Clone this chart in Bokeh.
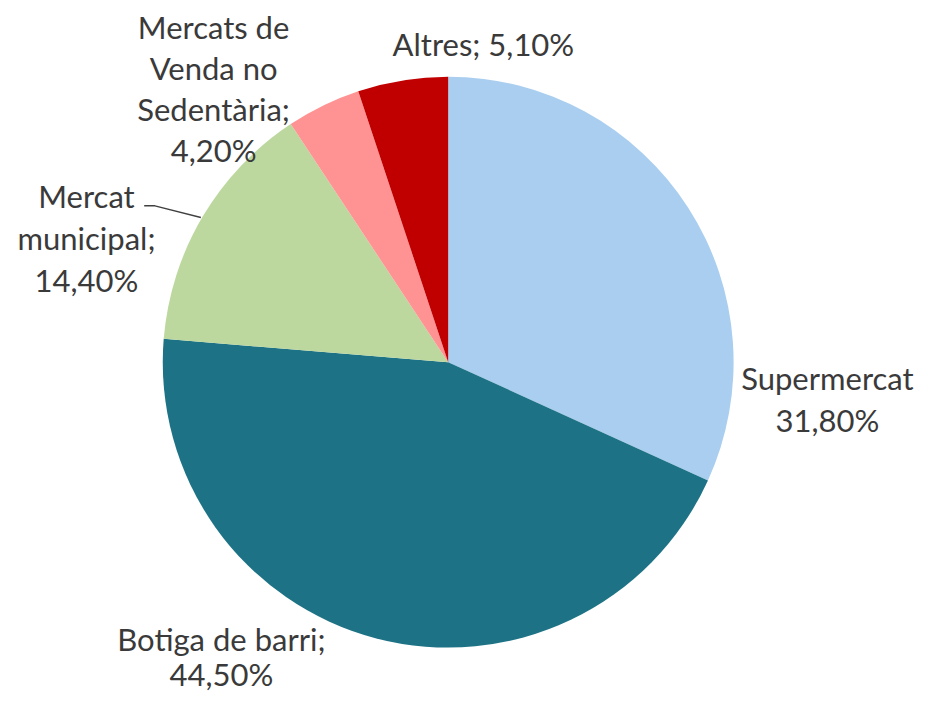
import math
from bokeh.plotting import figure
from bokeh.models import Range1d, ColumnDataSource
from bokeh.core.properties import value
from bokeh.embed import file_html
from bokeh.resources import INLINE

categories = ["Supermercat", "Botiga de barri", "Mercat municipal",
              "Mercats de Venda no Sedentària", "Altres"]
shares = [31.8, 44.5, 14.4, 4.2, 5.1]
colors = ["#AACEEF", "#1D7385", "#BCD89F", "#FF9292", "#C00000"]
label_lines = [
    ["Supermercat", "31,80%"],
    ["Botiga de barri;", "44,50%"],
    ["Mercat", "municipal;", "14,40%"],
    ["Mercats de", "Venda no", "Sedentària;", "4,20%"],
    ["Altres; 5,10%"],
]

W, H = 928, 694
REF_H = 710
s = H / REF_H  # layout scale so the reference layout fits the canvas
p = figure(width=W, height=H, output_backend="svg", toolbar_location=None,
           x_range=Range1d(0, W / s), y_range=Range1d(0, REF_H), min_border=0)
p.axis.visible = False
p.grid.visible = False
p.outline_line_color = None
p.background_fill_color = "white"

def sy(y):  # layout y (top-down) -> data y
    return REF_H - y

cx, cy, r = 458, sy(370), 292
total = sum(shares)
starts, ends = [], []
acc = 0.0
for v in shares:
    a0 = math.pi / 2 - 2 * math.pi * acc / total
    acc += v
    a1 = math.pi / 2 - 2 * math.pi * acc / total
    starts.append(a0)
    ends.append(a1)

src = ColumnDataSource(dict(start=starts, end=ends, color=colors, cat=categories))
p.wedge(x=cx, y=cy, radius=r, start_angle="start", end_angle="end",
        direction="clock", fill_color="color", line_color=None, source=src)

# label anchors (layout coords): center x, first line y, line spacing
anchors = [(846, 386, 43), (226, 653, 36), (88, 200, 43), (218, 27, 42), (494, 45, 0)]
tx, ty, tt = [], [], []
for lines, (ax, ay, dy) in zip(label_lines, anchors):
    for i, t in enumerate(lines):
        tx.append(ax)
        ty.append(sy(ay + i * dy))
        tt.append(t)
p.text(x=tx, y=ty, text=tt, text_align="center", text_baseline="middle",
       text_font=value("Lato"), text_font_size="31px", text_color="#3A3A3A")

# leader line for Mercat municipal
p.line(x=[147, 158, 205], y=[sy(210), sy(210), sy(222)], line_color="#404040", line_width=1.3)

open("out.html", "w").write(file_html(p, INLINE))
